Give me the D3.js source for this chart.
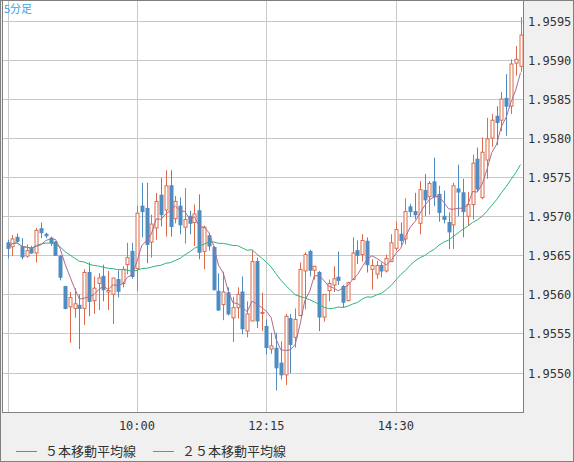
<!DOCTYPE html>
<html><head><meta charset="utf-8">
<script src="https://cdn.jsdelivr.net/npm/d3@7"></script>
<style>body{margin:0;background:#f0f0f0}svg{display:block}</style>
</head><body>
<svg width="574" height="462"></svg>
<script>
// 5-minute bars from 7:45
var opens  = [1.95666,1.95661,1.95673,1.95661,1.95649,1.95659,1.95653,1.95684,1.95677,1.95672,1.95667,1.95649,1.95610,1.95584,1.95582,1.95586,1.95582,1.95628,1.95592,1.95614,
  1.95623,1.95603,1.95600,1.95619,1.95614,1.95638,1.95655,1.95633,1.95713,1.95710,1.95667,1.95685,1.95727,1.95708,1.95739,1.95697,1.95713,1.95686,1.95700,1.95692,
  1.95707,1.95655,1.95675,1.95660,1.95604,1.95587,1.95602,1.95570,1.95583,1.95603,1.95553,1.95566,1.95642,1.95576,1.95559,1.95530,1.95531,1.95512,1.95497,1.95569,
  1.95545,1.95573,1.95630,1.95655,1.95631,1.95628,1.95571,1.95605,1.95612,1.95622,1.95610,1.95592,1.95619,1.95656,1.95651,1.95668,1.95632,1.95626,1.95637,1.95630,
  1.95642,1.95659,1.95677,1.95671,1.95712,1.95706,1.95691,1.95733,1.95725,1.95744,1.95728,1.95700,1.95692,1.95689,1.95735,1.95730,1.95700,1.95715,1.95773,1.95724,
  1.95772,1.95800,1.95828,1.95823,1.95851,1.95841,1.95896,1.95892];
var highs  = [1.95670,1.95676,1.95678,1.95672,1.95664,1.95662,1.95685,1.95692,1.95679,1.95674,1.95668,1.95650,1.95611,1.95603,1.95608,1.95600,1.95632,1.95641,1.95623,1.95627,
  1.95638,1.95630,1.95621,1.95631,1.95636,1.95666,1.95666,1.95713,1.95743,1.95743,1.95702,1.95730,1.95749,1.95759,1.95759,1.95726,1.95724,1.95736,1.95707,1.95715,
  1.95728,1.95688,1.95679,1.95662,1.95627,1.95629,1.95609,1.95597,1.95609,1.95623,1.95591,1.95656,1.95647,1.95602,1.95568,1.95551,1.95551,1.95540,1.95575,1.95575,
  1.95582,1.95641,1.95654,1.95657,1.95636,1.95630,1.95600,1.95619,1.95636,1.95655,1.95612,1.95616,1.95673,1.95669,1.95677,1.95673,1.95645,1.95643,1.95641,1.95651,
  1.95677,1.95693,1.95692,1.95723,1.95716,1.95730,1.95745,1.95754,1.95745,1.95775,1.95739,1.95733,1.95705,1.95743,1.95766,1.95748,1.95731,1.95779,1.95788,1.95801,
  1.95826,1.95831,1.95841,1.95859,1.95882,1.95901,1.95918,1.95955];
var lows   = [1.95646,1.95649,1.95667,1.95645,1.95647,1.95652,1.95641,1.95672,1.95672,1.95662,1.95649,1.95618,1.95581,1.95538,1.95570,1.95530,1.95561,1.95572,1.95575,1.95580,
  1.95591,1.95580,1.95562,1.95596,1.95609,1.95626,1.95620,1.95604,1.95673,1.95640,1.95647,1.95670,1.95687,1.95674,1.95674,1.95691,1.95677,1.95665,1.95677,1.95662,
  1.95645,1.95632,1.95656,1.95605,1.95579,1.95567,1.95573,1.95539,1.95569,1.95549,1.95545,1.95566,1.95557,1.95553,1.95523,1.95524,1.95477,1.95491,1.95484,1.95499,
  1.95532,1.95572,1.95581,1.95623,1.95619,1.95553,1.95565,1.95591,1.95603,1.95612,1.95583,1.95591,1.95619,1.95639,1.95642,1.95628,1.95606,1.95620,1.95622,1.95628,
  1.95642,1.95656,1.95663,1.95664,1.95699,1.95696,1.95677,1.95700,1.95702,1.95713,1.95693,1.95691,1.95658,1.95658,1.95700,1.95673,1.95688,1.95696,1.95732,1.95722,
  1.95748,1.95789,1.95791,1.95809,1.95803,1.95831,1.95880,1.95885];
var closes = [1.95659,1.95671,1.95668,1.95648,1.95656,1.95653,1.95682,1.95679,1.95675,1.95666,1.95650,1.95622,1.95582,1.95596,1.95588,1.95582,1.95628,1.95591,1.95608,1.95621,
  1.95606,1.95605,1.95621,1.95604,1.95632,1.95647,1.95623,1.95704,1.95706,1.95664,1.95690,1.95719,1.95702,1.95739,1.95687,1.95719,1.95689,1.95696,1.95691,1.95703,
  1.95654,1.95686,1.95662,1.95606,1.95580,1.95603,1.95575,1.95583,1.95600,1.95556,1.95575,1.95642,1.95566,1.95577,1.95532,1.95534,1.95506,1.95497,1.95572,1.95536,
  1.95568,1.95632,1.95651,1.95631,1.95636,1.95571,1.95600,1.95614,1.95620,1.95618,1.95590,1.95615,1.95653,1.95650,1.95669,1.95638,1.95637,1.95637,1.95630,1.95646,
  1.95666,1.95683,1.95669,1.95706,1.95706,1.95702,1.95734,1.95721,1.95742,1.95725,1.95705,1.95696,1.95680,1.95739,1.95731,1.95706,1.95715,1.95768,1.95735,1.95782,
  1.95799,1.95823,1.95820,1.95850,1.95841,1.95895,1.95901,1.95932];
var yTicks = [1.9550,1.9555,1.9560,1.9565,1.9570,1.9575,1.9580,1.9585,1.9590,1.9595];
var xTickIdx = [0, 27, 54, 81];
var xTickLabels = ["", "10:00", "12:15", "14:30"];

var bars = opens.map((o, i) => ({i: i, o: o, h: highs[i], l: lows[i], c: closes[i]}));

function movingAvg(n) {
  return closes.map((c, i) => {
    var s = closes.slice(Math.max(0, i - n + 1), i + 1);
    return {i: i, v: d3.mean(s)};
  });
}

var svg = d3.select("svg");
var L = 2, R = 523, T = 0, B = 412;
var x = d3.scaleLinear().domain([0, bars.length - 1]).range([7.5, 520.5]);
var y = d3.scaleLinear().domain([1.9550, 1.9595]).range([372.5, 21]);

svg.append("rect").attr("x", 0.5).attr("y", 0.5).attr("width", 573).attr("height", 461)
  .attr("fill", "#f0f0f0").attr("stroke", "#808080");
svg.append("rect").attr("x", L + 0.5).attr("y", T + 0.5).attr("width", R - L).attr("height", B - T)
  .attr("fill", "#fff").attr("stroke", "#808080");

var grid = svg.append("g").attr("stroke", "#c8c8c8").attr("stroke-width", 1);
grid.selectAll("line.h").data(yTicks).enter().append("line")
  .attr("x1", L + 1).attr("x2", R).attr("y1", d => Math.round(y(d)) + 0.5).attr("y2", d => Math.round(y(d)) + 0.5);
grid.selectAll("line.v").data(xTickIdx).enter().append("line")
  .attr("y1", T + 1).attr("y2", B).attr("x1", d => Math.round(x(d)) + 0.5).attr("x2", d => Math.round(x(d)) + 0.5);

svg.append("g").selectAll("text").data(yTicks).enter().append("text")
  .attr("x", 528).attr("y", d => y(d) + 5)
  .style("font-family", "DejaVu Sans Mono").style("font-size", "12px").attr("fill", "#333")
  .text(d => d.toFixed(4));

svg.append("g").selectAll("text").data(xTickIdx).enter().append("text")
  .attr("x", d => x(d)).attr("y", 430).attr("text-anchor", "middle")
  .style("font-family", "DejaVu Sans Mono").style("font-size", "12px").attr("fill", "#333")
  .text((d, k) => xTickLabels[k]);

var up = "#dd6a48", down = "#4e8cc2";
var cg = svg.append("g");
cg.selectAll("line").data(bars).enter().append("line")
  .attr("x1", d => Math.round(x(d.i)) + 0.5).attr("x2", d => Math.round(x(d.i)) + 0.5)
  .attr("y1", d => y(d.h)).attr("y2", d => y(d.l))
  .attr("stroke", d => d.c >= d.o ? up : down);
cg.selectAll("rect").data(bars).enter().append("rect")
  .attr("x", d => Math.round(x(d.i)) - 1)
  .attr("width", 3)
  .attr("y", d => y(Math.max(d.o, d.c)))
  .attr("height", d => Math.max(1, Math.abs(y(d.o) - y(d.c))))
  .attr("fill", d => d.c >= d.o ? "#fff" : down)
  .attr("stroke", d => d.c >= d.o ? up : down).attr("stroke-width", 1);

var line = d3.line().x(d => x(d.i)).y(d => y(d.v));
svg.append("path").datum(movingAvg(25)).attr("d", line).attr("fill", "none").attr("stroke", "#2cb57c");
svg.append("path").datum(movingAvg(5)).attr("d", line).attr("fill", "none").attr("stroke", "#b06a92");

svg.append("text").attr("x", 4).attr("y", 13).attr("fill", "#3aa0e8")
  .style("font-family", "Noto Sans CJK JP").style("font-size", "11px").text("5分足");

var legend = [{t: "５本移動平均線", c: "#b06a92", x: 16}, {t: "２５本移動平均線", c: "#2cb57c", x: 153}];
var lg = svg.append("g").selectAll("g").data(legend).enter().append("g");
lg.append("line").attr("x1", d => d.x).attr("x2", d => d.x + 21).attr("y1", 451.5).attr("y2", 451.5).attr("stroke", d => d.c);
lg.append("text").attr("x", d => d.x + 29).attr("y", 456).attr("fill", "#333")
  .style("font-family", "Noto Sans CJK JP").style("font-size", "13px").text(d => d.t);
</script>
</body></html>
